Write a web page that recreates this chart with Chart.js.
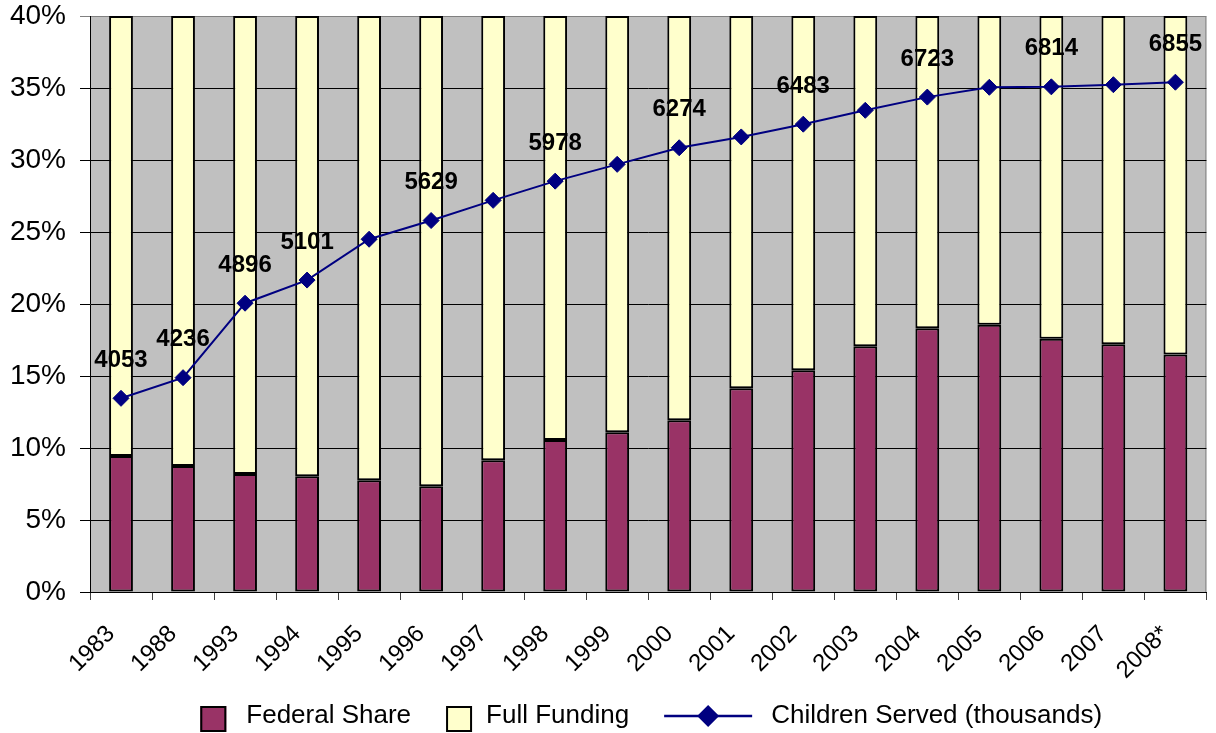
<!DOCTYPE html>
<html>
<head>
<meta charset="utf-8">
<script src="https://cdn.jsdelivr.net/npm/chart.js@4"></script>
<style>
  html, body { margin: 0; padding: 0; background: #fff; }
  #wrap { width: 1216px; height: 733px; }
</style>
</head>
<body>
<div id="wrap"><canvas id="chart"></canvas></div>
<script>
const years = ['1983', '1988', '1993', '1994', '1995', '1996', '1997', '1998', '1999',
  '2000', '2001', '2002', '2003', '2004', '2005', '2006', '2007', '2008*'];

// percent of excess cost, stacked up to the 40% full funding level
const federalShare = [9.44, 8.75, 8.19, 8.03, 7.76, 7.34, 9.15, 10.56, 11.09,
  11.92, 14.15, 15.40, 17.06, 18.31, 18.56, 17.59, 17.20, 16.50];
const fullFunding = [30.56, 31.25, 31.81, 31.97, 32.24, 32.66, 30.85, 29.44, 28.91,
  28.08, 25.85, 24.60, 22.94, 21.69, 21.44, 22.41, 22.80, 23.50];

// thousands of children, on a hidden second axis
const childrenServed = [4053, 4236, 4896, 5101, 5463, 5629, 5808, 5978, 6127,
  6274, 6370, 6483, 6606, 6723, 6810, 6814, 6833, 6855];
const labelledYears = ['1983', '1988', '1993', '1994', '1996', '1998', '2000',
  '2002', '2004', '2006', '2008*'];

const yTicks = [0, 5, 10, 15, 20, 25, 30, 35, 40];

const FONT = '"Liberation Sans", Arial, sans-serif';

const plotBackground = {
  id: 'plotBackground',
  beforeDraw(chart) {
    const {ctx, chartArea: a} = chart;
    ctx.save();
    ctx.fillStyle = '#C0C0C0';
    ctx.fillRect(a.left, a.top, a.right - a.left, a.bottom - a.top);
    ctx.strokeStyle = '#808080';
    ctx.lineWidth = 1;
    ctx.beginPath();
    ctx.moveTo(a.left, a.top + 0.5);
    ctx.lineTo(a.right - 0.5, a.top + 0.5);
    ctx.lineTo(a.right - 0.5, a.bottom);
    ctx.stroke();
    ctx.restore();
  }
};

const pointLabels = {
  id: 'pointLabels',
  afterDatasetsDraw(chart) {
    const ctx = chart.ctx;
    const meta = chart.getDatasetMeta(2);
    ctx.save();
    ctx.font = 'bold 24px ' + FONT;
    ctx.fillStyle = '#000';
    ctx.textAlign = 'center';
    ctx.textBaseline = 'middle';
    meta.data.forEach((pt, i) => {
      if (labelledYears.includes(years[i])) {
        ctx.fillText(String(childrenServed[i]), pt.x, pt.y - 38);
      }
    });
    ctx.restore();
  }
};

const bottomLegend = {
  id: 'bottomLegend',
  afterDraw(chart) {
    const {ctx, chartArea: a} = chart;
    const items = [
      {kind: 'box', color: '#993366', text: 'Federal Share', gap: 20},
      {kind: 'box', color: '#FFFFCC', text: 'Full Funding', gap: 14},
      {kind: 'line', color: '#000080', text: 'Children Served (thousands)', gap: 19}
    ];
    ctx.save();
    ctx.font = '26px ' + FONT;
    let total = 0;
    items.forEach((it, i) => {
      it.sym = it.kind === 'box' ? 26 : 88;
      it.w = ctx.measureText(it.text).width;
      total += it.sym + it.gap + it.w + (i < items.length - 1 ? 35 : 0);
    });
    let x = (a.left + a.right) / 2 - total / 2 + 3;
    const base = chart.height - 10;
    items.forEach(it => {
      if (it.kind === 'box') {
        ctx.fillStyle = it.color;
        ctx.fillRect(x, base - 17, 26, 26);
        ctx.strokeStyle = '#000';
        ctx.lineWidth = 2;
        ctx.strokeRect(x + 1, base - 16, 24, 24);
      } else {
        const cy = base - 7;
        ctx.strokeStyle = it.color;
        ctx.lineWidth = 2.5;
        ctx.beginPath();
        ctx.moveTo(x, cy);
        ctx.lineTo(x + 88, cy);
        ctx.stroke();
        ctx.fillStyle = it.color;
        ctx.beginPath();
        ctx.moveTo(x + 44, cy - 11);
        ctx.lineTo(x + 55, cy);
        ctx.lineTo(x + 44, cy + 11);
        ctx.lineTo(x + 33, cy);
        ctx.closePath();
        ctx.fill();
      }
      x += it.sym + it.gap;
      ctx.fillStyle = '#000';
      ctx.textBaseline = 'alphabetic';
      ctx.fillText(it.text, x, base);
      x += it.w + 35;
    });
    ctx.restore();
  }
};

new Chart(document.getElementById('chart'), {
  data: {
    labels: years,
    datasets: [
      {
        type: 'bar',
        label: 'Federal Share',
        data: federalShare,
        backgroundColor: '#993366',
        borderColor: '#000',
        borderWidth: 2,
        borderSkipped: false,
        stack: 'funding',
        order: 1
      },
      {
        type: 'bar',
        label: 'Full Funding',
        data: fullFunding,
        backgroundColor: '#FFFFCC',
        borderColor: '#000',
        borderWidth: 2,
        borderSkipped: false,
        stack: 'funding',
        order: 1
      },
      {
        type: 'line',
        label: 'Children Served (thousands)',
        data: childrenServed,
        yAxisID: 'y1',
        borderColor: '#000080',
        borderWidth: 2,
        backgroundColor: '#000080',
        pointStyle: 'rectRot',
        pointRadius: 8,
        pointBorderWidth: 1,
        tension: 0,
        order: 0
      }
    ]
  },
  options: {
    responsive: true,
    maintainAspectRatio: false,
    animation: false,
    datasets: {
      bar: {categoryPercentage: 1, barPercentage: 0.384}
    },
    layout: {padding: {top: 16, right: 1, left: 0, bottom: 0}},
    plugins: {
      legend: {display: false},
      tooltip: {enabled: false}
    },
    scales: {
      x: {
        stacked: true,
        grid: {
          offset: true,
          drawOnChartArea: false,
          drawTicks: true,
          tickLength: 8,
          color: '#404040'
        },
        border: {color: '#000', width: 1},
        ticks: {
          autoSkip: false,
          maxRotation: 45,
          minRotation: 45,
          color: '#000',
          font: {family: FONT, size: 24},
          padding: 20,
          labelOffset: -10
        },
        afterFit(scale) { scale.height = 141; }
      },
      y: {
        stacked: true,
        min: 0,
        max: 40,
        afterBuildTicks(scale) { scale.ticks = yTicks.map(v => ({value: v})); },
        grid: {
          color: ctx => (ctx.tick && ctx.tick.value === 40 ? '#808080' : '#000'),
          lineWidth: 1,
          tickLength: 10,
          drawTicks: true
        },
        border: {color: '#000', width: 1},
        ticks: {
          color: '#000',
          font: {family: FONT, size: 28},
          padding: 14,
          callback: v => v + '%'
        },
        afterFit(scale) {
          scale.width = 90;
          scale.paddingTop = 0;
          scale.paddingBottom = 0;
        }
      },
      y1: {
        display: false,
        min: 2336,
        max: 7442
      }
    }
  },
  plugins: [plotBackground, pointLabels, bottomLegend]
});
</script>
</body>
</html>
